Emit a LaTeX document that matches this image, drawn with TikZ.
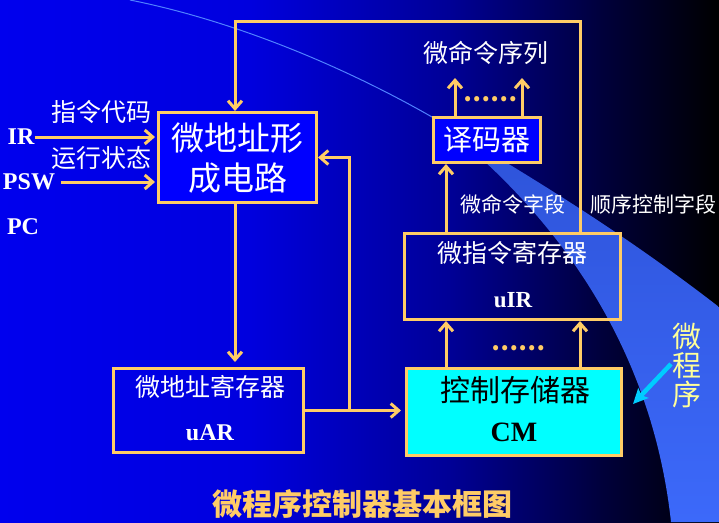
\documentclass[tikz,border=0pt]{standalone}
\usepackage{fontspec}
\setmainfont{Liberation Serif}
\newfontfamily\cjk{Noto Sans CJK SC}
\usetikzlibrary{arrows.meta}
\definecolor{gold}{RGB}{255,204,102}
\definecolor{bgA}{RGB}{0,0,238}
\definecolor{bgB}{RGB}{0,0,222}
\definecolor{bgC}{RGB}{0,0,150}
\definecolor{bgD}{RGB}{0,0,60}
\definecolor{bandT}{RGB}{45,82,215}
\definecolor{bandB}{RGB}{60,105,250}
\definecolor{thinline}{RGB}{80,130,255}
\definecolor{boxblue}{RGB}{0,0,255}
\definecolor{cmcyan}{RGB}{0,255,255}
\definecolor{arrcyan}{RGB}{0,204,255}
\definecolor{paleyellow}{RGB}{255,255,153}
\newcommand\fsz[1]{\fontsize{#1}{#1}\selectfont}
\begin{document}
\begin{tikzpicture}[x=1pt,y=-1pt,
  box/.style={draw=gold, line width=3pt, inner sep=0pt},
  conn/.style={draw=gold, line width=3pt, -{Straight Barb[length=8pt,width=14pt]}},
  lbl/.style={inner sep=0pt, text=white},
  cn/.style={lbl, font=\cjk\fsz{#1}},
  lat/.style={lbl, font=\bfseries\fsz{#1}},
  dots/.style={inner sep=0pt, text=gold, font=\cjk\bfseries\fsz{24}},
]
\useasboundingbox (0,0) rectangle (719,522);
% background
\shade[left color=bgA, right color=bgB] (0,0) rectangle (251,522);
\shade[left color=bgB, right color=bgC] (250,0) rectangle (451,522);
\shade[left color=bgC, right color=bgD] (450,0) rectangle (601,522);
\shade[left color=bgD, right color=black] (600,0) rectangle (719,522);
% light band
\shade[top color=bandT, bottom color=bandB]
  (432,117) .. controls (500,160) and (600,215) .. (719,307)
  -- (719,522) -- (671,522)
  .. controls (650,330) and (540,200) .. (432,117) -- cycle;
\draw[line width=1pt, thinline] (130,0) .. controls (240,22) and (350,70) .. (432,117);

% boxes
\node[box, fill=boxblue, minimum width=158, minimum height=90] (addr) at (237.5,157.5) {};
\node[cn=33] (addrA) at (237.5,138) {微地址形};
\node[cn=33] (addrB) at (237.5,178) {成电路};

\node[box, fill=boxblue, minimum width=107, minimum height=45] (dec) at (487,140) {};
\node[cn=29] (decT) at (487,140) {译码器};

\node[box, minimum width=216, minimum height=86] (uir) at (512.5,276.5) {};
\node[cn=25] (uirA) at (512.5,253) {微指令寄存器};
\node[lat=23] (uirB) at (513,300) {uIR};

\node[box, fill=cmcyan, minimum width=215, minimum height=87] (cm) at (514,412) {};
\node[cn=30, text=black] (cmA) at (515,390) {控制存储器};
\node[lat=28, text=black] (cmB) at (514,432) {CM};

\node[box, minimum width=190, minimum height=84] (uar) at (208.5,410.5) {};
\node[cn=25] (uarA) at (210,387) {微地址寄存器};
\node[lat=24] (uarB) at (210,433) {uAR};

% labels
\node[lat=24] (ir) at (21,137) {IR};
\node[lat=24] (psw) at (29,182) {PSW};
\node[lat=24] (pc) at (23,227) {PC};
\node[cn=25] (lab1) at (101,112) {指令代码};
\node[cn=25] (lab2) at (101,158) {运行状态};
\node[cn=25] (seq) at (486,53) {微命令序列};
\node[cn=21] (fld1) at (512.5,204) {微命令字段};
\node[cn=21] (fld2) at (653,204) {顺序控制字段};
\node[dots] (dotsA) at (490,99) {……};
\node[dots] (dotsB) at (518,348) {……};
\node[lbl, text=paleyellow, font=\cjk\fsz{29}, align=center] (mp) at (687,366)
  {\fontsize{29}{36}\selectfont 微\\程\\序};
\node[inner sep=0pt, text=gold, font=\cjk\bfseries\fsz{30}] (title) at (362,504) {微程序控制器基本框图};

% coordinates for connector routes
\coordinate (loopL) at (235,21);
\coordinate (loopR) at (580,21);
\coordinate (colA) at (446,0);
\coordinate (jn) at (349,0);
\coordinate (out1) at (455,78);
\coordinate (out2) at (522,78);
\coordinate (mpA) at (671,364);
\coordinate (mpB) at (633,404);

% connectors
\draw[conn] (uir.north -| loopR) -- (loopR) -- (loopL) -- (addr.north -| loopL);
\draw[conn, shorten >=5pt] (addr.south -| loopL) -- (uar.north -| loopL);
\draw[conn, shorten >=4pt] (uar.east) -- (uar.east -| cm.west);
\draw[conn] (uar.east -| jn) |- (addr.east);
\draw[conn, shorten >=2pt] (ir.east) -- (ir.east -| addr.west);
\draw[conn, shorten <=6pt, shorten >=2pt] (psw.east) -- (psw.east -| addr.west);
\draw[conn] (uir.north -| colA) -- (dec.south -| colA);
\draw[conn] (dec.north -| out1) -- (out1);
\draw[conn] (dec.north -| out2) -- (out2);
\draw[conn] (cm.north -| colA) -- (uir.south -| colA);
\draw[conn] (cm.north -| loopR) -- (uir.south -| loopR);
\draw[arrcyan, line width=4.5pt, -{Stealth[length=15pt,width=14pt,inset=3pt]}] (mpA) -- (mpB);
\end{tikzpicture}
\end{document}
